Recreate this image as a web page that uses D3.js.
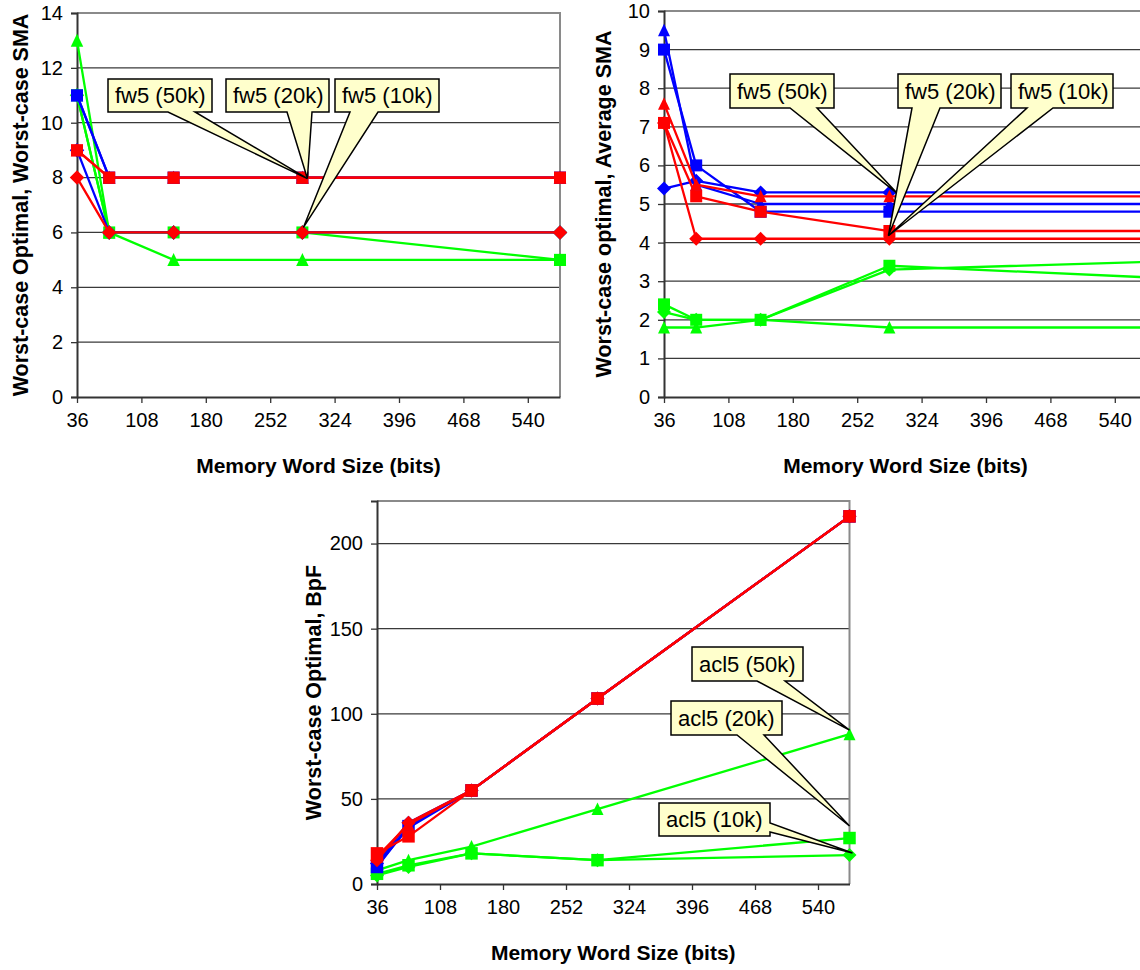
<!DOCTYPE html>
<html>
<head>
<meta charset="utf-8">
<script src="https://cdn.jsdelivr.net/npm/d3@7"></script>
<style>
  html, body { margin: 0; padding: 0; background: #fff; }
  svg { display: block; font-family: "Liberation Sans", Arial, sans-serif; }
</style>
</head>
<body>
<svg id="chart" width="1140" height="970"></svg>
<script>
// ---------- data ----------
const wordSizes = [36, 72, 144, 288, 576];
const xTicks = [36, 108, 180, 252, 324, 396, 468, 540];
const xTitle = "Memory Word Size (bits)";

// Chart 1: Worst-case Optimal, Worst-case SMA
const c1Ticks = [0, 2, 4, 6, 8, 10, 12, 14];
const c1GreenDiamond  = [11, 6, 6, 6, 6];
const c1GreenSquare   = [11, 6, 6, 6, 5];
const c1GreenTriangle = [13, 6, 5, 5, 5];
const c1BlueDiamond   = [9, 6, 6, 6, 6];
const c1BlueSquare    = [11, 8, 8, 8, 8];
const c1BlueTriangle  = [11, 8, 8, 8, 8];
const c1RedDiamond    = [8, 6, 6, 6, 6];
const c1RedSquare     = [9, 8, 8, 8, 8];
const c1RedTriangle   = [9, 8, 8, 8, 8];

// Chart 2: Worst-case optimal, Average SMA
const c2Ticks = [0, 1, 2, 3, 4, 5, 6, 7, 8, 9, 10];
const c2GreenDiamond  = [2.2, 2.0, 2.0, 3.3, 3.5];
const c2GreenSquare   = [2.4, 2.0, 2.0, 3.4, 3.1];
const c2GreenTriangle = [1.8, 1.8, 2.0, 1.8, 1.8];
const c2BlueDiamond   = [5.4, 5.6, 5.3, 5.3, 5.3];
const c2BlueSquare    = [9.0, 6.0, 4.8, 4.8, 4.8];
const c2BlueTriangle  = [9.5, 5.5, 5.0, 5.0, 5.0];
const c2RedDiamond    = [7.1, 4.1, 4.1, 4.1, 4.1];
const c2RedSquare     = [7.1, 5.2, 4.8, 4.3, 4.3];
const c2RedTriangle   = [7.6, 5.5, 5.2, 5.2, 5.2];

// Chart 3: Worst-case Optimal, BpF
const c3Ticks = [0, 50, 100, 150, 200];
const c3GreenDiamond  = [5, 10, 18, 14, 17];
const c3GreenSquare   = [6, 11, 18, 14, 27];
const c3GreenTriangle = [8, 14, 22, 44, 88];
const c3BlueDiamond   = [12, 36, 55, 109, 216];
const c3BlueSquare    = [10, 34, 55, 109, 216];
const c3BlueTriangle  = [11, 33, 55, 109, 216];
const c3RedDiamond    = [14, 36, 55, 109, 216];
const c3RedSquare     = [18, 28, 55, 109, 216];
const c3RedTriangle   = [16, 35, 55, 109, 216];

// ---------- drawing ----------
const svg = d3.select("#chart");
svg.append("rect").attr("width", 1140).attr("height", 970).attr("fill", "#fff");

const COLORS = { green: "#00FF00", blue: "#0000FF", red: "#FF0000" };

function markerPath(shape, s) {
  const h = s / 2;
  if (shape === "square") return `M${-h},${-h}h${s}v${s}h${-s}Z`;
  if (shape === "diamond") return `M0,${-h - 1}L${h + 1},0L0,${h + 1}L${-h - 1},0Z`;
  return `M0,${-h - 0.5}L${h},${h}L${-h},${h}Z`;
}

function drawChart(cfg) {
  const g = svg.append("g");
  const x = d3.scaleLinear().domain([36, 576]).range([cfg.left, cfg.right]);
  const y = d3.scaleLinear().domain([0, cfg.yMax]).range([cfg.bottom, cfg.top]);

  // gridlines
  g.append("g").selectAll("line").data(cfg.yTicks.filter(v => v > 0)).join("line")
    .attr("x1", cfg.left).attr("x2", cfg.right)
    .attr("y1", d => y(d)).attr("y2", d => y(d))
    .attr("stroke", "#3a3a3a").attr("stroke-width", 1.3);

  // plot border (top/right)
  g.append("path")
    .attr("d", `M${cfg.left},${cfg.top}H${cfg.right}V${cfg.bottom}`)
    .attr("fill", "none").attr("stroke", "#8a8a8a").attr("stroke-width", 2);

  // y axis
  const yAxis = d3.axisLeft(y).tickValues(cfg.yTicks).tickSize(6).tickPadding(8)
    .tickFormat(d3.format("d"));
  const ya = g.append("g").attr("transform", `translate(${cfg.left},0)`).call(yAxis);
  ya.select(".domain").attr("stroke", "#333").attr("stroke-width", 2);
  ya.selectAll(".tick line").attr("stroke", "#333").attr("stroke-width", 1.3);
  ya.selectAll(".tick text").attr("font-size", 20).attr("fill", "#000")
    .attr("font-family", "Liberation Sans, Arial, sans-serif");

  // x axis
  const xAxis = d3.axisBottom(x).tickValues(xTicks).tickSize(6).tickPadding(10)
    .tickSizeOuter(0).tickFormat(d3.format("d"));
  const xa = g.append("g").attr("transform", `translate(0,${cfg.bottom})`).call(xAxis);
  xa.select(".domain").attr("stroke", "#333").attr("stroke-width", 2);
  xa.selectAll(".tick line").attr("stroke", "#333").attr("stroke-width", 1.3);
  xa.selectAll(".tick text").attr("font-size", 20).attr("fill", "#000")
    .attr("font-family", "Liberation Sans, Arial, sans-serif");

  // titles
  g.append("text")
    .attr("x", (cfg.left + cfg.right) / 2).attr("y", cfg.bottom + 76)
    .attr("text-anchor", "middle").attr("font-size", 21).attr("font-weight", "bold")
    .text(xTitle);
  g.append("text")
    .attr("transform", `translate(${cfg.yTitleX},${(cfg.top + cfg.bottom) / 2}) rotate(-90)`)
    .attr("dy", "0.36em")
    .attr("text-anchor", "middle").attr("font-size", 21.5).attr("font-weight", "bold")
    .text(cfg.yTitle);

  // series
  const line = d3.line().x(d => x(d[0])).y(d => y(d[1]));
  cfg.series.forEach(s => {
    const pts = wordSizes.map((w, i) => [w, s.values[i]]);
    g.append("path").attr("d", line(pts)).attr("fill", "none")
      .attr("stroke", COLORS[s.color]).attr("stroke-width", 2.3)
      .attr("stroke-linejoin", "round");
    g.append("g").selectAll("path").data(pts).join("path")
      .attr("transform", d => `translate(${x(d[0])},${y(d[1])})`)
      .attr("d", markerPath(s.shape, s.shape === "square" ? cfg.sq : cfg.mk))
      .attr("fill", COLORS[s.color]);
  });

  // callouts
  cfg.callouts.forEach(c => {
    const tx = x(c.at[0]) + c.off[0], ty = y(c.at[1]) + c.off[1];
    const [bx, by, bw, bh] = c.box;
    let d;
    if (c.side === "right") {
      d = `M${bx},${by}H${bx + bw}V${c.w[0]}L${tx},${ty}L${bx + bw},${c.w[1]}V${by + bh}H${bx}Z`;
    } else {
      d = `M${bx},${by}H${bx + bw}V${by + bh}H${c.w[1]}L${tx},${ty}L${c.w[0]},${by + bh}H${bx}Z`;
    }
    g.append("path").attr("d", d).attr("fill", "#FFFFCC")
      .attr("stroke", "#000").attr("stroke-width", 1.5).attr("stroke-linejoin", "miter");
    g.append("text").attr("x", bx + 7).attr("y", by + bh / 2).attr("dy", "0.36em")
      .attr("font-size", 22).attr("fill", "#000").text(c.label);
  });
}

const order = (G, B, R) => [
  { color: "green", shape: "diamond", values: G[0] },
  { color: "green", shape: "square", values: G[1] },
  { color: "green", shape: "triangle", values: G[2] },
  { color: "blue", shape: "diamond", values: B[0] },
  { color: "blue", shape: "square", values: B[1] },
  { color: "blue", shape: "triangle", values: B[2] },
  { color: "red", shape: "diamond", values: R[0] },
  { color: "red", shape: "square", values: R[1] },
  { color: "red", shape: "triangle", values: R[2] },
];

drawChart({
  left: 77, right: 560, top: 13, bottom: 397, yMax: 14, yTicks: c1Ticks,
  yTitle: "Worst-case Optimal, Worst-case SMA", yTitleX: 20, sq: 12, mk: 12.5,
  series: order([c1GreenDiamond, c1GreenSquare, c1GreenTriangle],
                [c1BlueDiamond, c1BlueSquare, c1BlueTriangle],
                [c1RedDiamond, c1RedSquare, c1RedTriangle]),
  callouts: [
    { label: "fw5 (50k)", box: [108, 79, 104, 33], w: [168, 195], at: [288, 8], off: [5, 1] },
    { label: "fw5 (20k)", box: [226, 79, 103, 33], w: [287, 312], at: [288, 8], off: [5, 1] },
    { label: "fw5 (10k)", box: [335, 79, 104, 33], w: [350, 378], at: [288, 6], off: [1, -5] },
  ],
});

drawChart({
  left: 664, right: 1147, top: 11, bottom: 397, yMax: 10, yTicks: c2Ticks,
  yTitle: "Worst-case optimal, Average SMA", yTitleX: 603, sq: 12, mk: 12,
  series: order([c2GreenDiamond, c2GreenSquare, c2GreenTriangle],
                [c2BlueDiamond, c2BlueSquare, c2BlueTriangle],
                [c2RedDiamond, c2RedSquare, c2RedTriangle]),
  callouts: [
    { label: "fw5 (50k)", box: [730, 74, 104, 34], w: [790, 817], at: [288, 5.3], off: [9, 2] },
    { label: "fw5 (20k)", box: [898, 74, 103, 34], w: [912, 940], at: [288, 4.1], off: [-1, -3] },
    { label: "fw5 (10k)", box: [1011, 74, 102, 34], w: [1027, 1053], at: [288, 4.1], off: [-1, -3] },
  ],
});

drawChart({
  left: 377, right: 849.5, top: 501, bottom: 884, yMax: 225, yTicks: c3Ticks,
  yTitle: "Worst-case Optimal, BpF", yTitleX: 313, sq: 12.5, mk: 12,
  series: order([c3GreenDiamond, c3GreenSquare, c3GreenTriangle],
                [c3BlueDiamond, c3BlueSquare, c3BlueTriangle],
                [c3RedDiamond, c3RedSquare, c3RedTriangle]),
  callouts: [
    { label: "acl5 (50k)", box: [692, 647, 111, 34], w: [757, 785], at: [576, 88], off: [0, -4] },
    { label: "acl5 (20k)", box: [671, 701, 111, 34], w: [737, 764], at: [576, 27], off: [0, -12] },
    { label: "acl5 (10k)", box: [659, 803, 111, 33], w: [823, 832], at: [576, 17], off: [3, -2], side: "right" },
  ],
});
</script>
</body>
</html>
